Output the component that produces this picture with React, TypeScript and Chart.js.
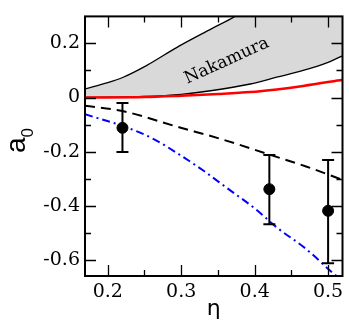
import React, { useEffect, useRef } from 'react';
import { Chart, registerables } from 'chart.js';

Chart.register(...registerables);

// Axis ticks
const xTicks = [0.2, 0.3, 0.4, 0.5];
const yTicks = [-0.6, -0.4, -0.2, 0, 0.2];
const xMinor = [0.2, 0.25, 0.3, 0.35, 0.4, 0.45, 0.5];
const yMinor = [-0.6, -0.5, -0.4, -0.3, -0.2, -0.1, 0, 0.1, 0.2];

// Data points with error bars
const etaPoints = [0.22, 0.42, 0.5];
const a0Points = [-0.112, -0.339, -0.419];
const errLow = [-0.201, -0.469, -0.613];
const errHigh = [-0.02, -0.213, -0.231];

// Nakamura band
const nakUpperX = [0.169, 0.2, 0.221, 0.252, 0.297, 0.341, 0.373, 0.4, 0.45, 0.52];
const nakUpperY = [0.032, 0.055, 0.075, 0.117, 0.19, 0.254, 0.3, 0.35, 0.45, 0.6];
const nakLowerX = [0.169, 0.2, 0.25, 0.3, 0.34, 0.394, 0.43, 0.466, 0.5, 0.52];
const nakLowerY = [0.0, 0.001, 0.004, 0.012, 0.025, 0.05, 0.075, 0.1, 0.13, 0.155];

// Red curve
const redX = [0.169, 0.25, 0.3, 0.35, 0.394, 0.43, 0.466, 0.52];
const redY = [0.0, 0.002, 0.007, 0.013, 0.02, 0.03, 0.043, 0.066];

// Black dashed curve
const dashX = [0.169, 0.22, 0.297, 0.35, 0.419, 0.47, 0.52];
const dashY = [-0.03, -0.05, -0.11, -0.15, -0.21, -0.255, -0.305];

// Blue dash-dot curve
const blueX = [0.169, 0.221, 0.26, 0.297, 0.33, 0.363, 0.4, 0.43, 0.47, 0.506, 0.52];
const blueY = [-0.062, -0.106, -0.15, -0.21, -0.27, -0.336, -0.41, -0.48, -0.56, -0.648, -0.68];

const SERIF = 'DejaVu Serif';
const SANS = 'Liberation Sans';

const zip = (xs: number[], ys: number[]) => xs.map((x, i) => ({ x, y: ys[i] }));

const decoPlugin = {
  id: 'deco',
  afterDraw(chart: any) {
    const { ctx, chartArea, scales } = chart;
    const { left, right, top, bottom } = chartArea;
    const xs = scales.x;
    const ys = scales.y;
    ctx.save();
    // error bars
    ctx.strokeStyle = '#000';
    ctx.lineWidth = 2;
    etaPoints.forEach((e, i) => {
      const px = xs.getPixelForValue(e);
      const y1 = ys.getPixelForValue(errLow[i]);
      const y2 = ys.getPixelForValue(errHigh[i]);
      ctx.beginPath();
      ctx.moveTo(px, y1);
      ctx.lineTo(px, y2);
      ctx.moveTo(px - 6, y1);
      ctx.lineTo(px + 6, y1);
      ctx.moveTo(px - 6, y2);
      ctx.lineTo(px + 6, y2);
      ctx.stroke();
    });
    // ticks
    ctx.lineWidth = 1.3;
    ctx.beginPath();
    xMinor.forEach((v) => {
      const px = Math.round(xs.getPixelForValue(v)) + 0.5;
      const len = xTicks.some((t) => Math.abs(t - v) < 1e-9) ? 11 : 6;
      ctx.moveTo(px, bottom);
      ctx.lineTo(px, bottom - len);
      ctx.moveTo(px, top);
      ctx.lineTo(px, top + len);
    });
    yMinor.forEach((v) => {
      const py = Math.round(ys.getPixelForValue(v)) + 0.5;
      const len = yTicks.some((t) => Math.abs(t - v) < 1e-9) ? 11 : 6;
      ctx.moveTo(left, py);
      ctx.lineTo(left + len, py);
      ctx.moveTo(right, py);
      ctx.lineTo(right - len, py);
    });
    ctx.stroke();
    // frame
    ctx.lineWidth = 2;
    ctx.strokeRect(left, top, right - left, bottom - top);
    // Nakamura label
    ctx.fillStyle = '#000';
    ctx.save();
    ctx.translate(xs.getPixelForValue(0.362), ys.getPixelForValue(0.135));
    ctx.rotate((-24.5 * Math.PI) / 180);
    ctx.font = '17px "' + SERIF + '"';
    ctx.textAlign = 'center';
    ctx.textBaseline = 'middle';
    ctx.fillText('Nakamura', 0, 0);
    ctx.restore();
    // x title
    ctx.font = '22px "DejaVu Sans"';
    ctx.textAlign = 'center';
    ctx.textBaseline = 'alphabetic';
    ctx.fillText('η', (left + right) / 2, 315);
    // y title with subscript
    ctx.save();
    ctx.translate(25, 153);
    ctx.rotate(-Math.PI / 2);
    ctx.textAlign = 'left';
    ctx.font = '28px "' + SANS + '"';
    ctx.fillText('a', 0, 0);
    const aw = ctx.measureText('a').width;
    ctx.font = '17px "' + SANS + '"';
    ctx.fillText('0', aw, 8);
    ctx.restore();
    ctx.restore();
  },
};

export default function App() {
  const ref = useRef<HTMLCanvasElement | null>(null);
  useEffect(() => {
    document.body.style.margin = '0';
    const canvas = ref.current;
    if (!canvas) return;
    const tickFont = { family: SERIF, size: 19 };
    const chart = new Chart(canvas, {
      type: 'scatter',
      data: {
        datasets: [
          {
            data: zip(etaPoints, a0Points),
            showLine: false,
            pointRadius: 5.5,
            pointBackgroundColor: '#000',
            pointBorderColor: '#000',
            borderColor: '#000',
          },
          {
            data: zip(redX, redY),
            showLine: true,
            borderColor: '#ff0000',
            borderWidth: 2.5,
            pointRadius: 0,
            cubicInterpolationMode: 'monotone',
          },
          {
            data: zip(dashX, dashY),
            showLine: true,
            borderColor: '#000',
            borderWidth: 2,
            borderDash: [10, 6],
            pointRadius: 0,
            cubicInterpolationMode: 'monotone',
          },
          {
            data: zip(blueX, blueY),
            showLine: true,
            borderColor: '#0000ff',
            borderWidth: 2,
            borderDash: [8, 4, 2, 4],
            pointRadius: 0,
            cubicInterpolationMode: 'monotone',
          },
          {
            data: zip(nakUpperX, nakUpperY),
            showLine: true,
            borderColor: '#000',
            borderWidth: 1.3,
            pointRadius: 0,
            fill: 5,
            backgroundColor: '#d9d9d9',
            cubicInterpolationMode: 'monotone',
          },
          {
            data: zip(nakLowerX, nakLowerY),
            showLine: true,
            borderColor: '#000',
            borderWidth: 1.3,
            pointRadius: 0,
            cubicInterpolationMode: 'monotone',
          },
        ] as any,
      },
      options: {
        animation: false,
        responsive: false,
        devicePixelRatio: 1,
        layout: { padding: { top: 7, right: 1, left: 0, bottom: 0 } },
        plugins: {
          legend: { display: false },
          tooltip: { enabled: false },
          filler: { drawTime: 'beforeDatasetsDraw' },
        } as any,
        scales: {
          x: {
            type: 'linear',
            min: 0.169,
            max: 0.5196,
            grid: { display: false, drawTicks: false },
            border: { display: false },
            ticks: {
              font: tickFont,
              color: '#000',
              padding: 5,
              maxRotation: 0,
              callback: (v: any) => String(Math.round(Number(v) * 10) / 10),
            },
            afterBuildTicks: (s: any) => {
              s.ticks = xTicks.map((v) => ({ value: v }));
            },
            afterFit: (s: any) => {
              s.height = 47;
            },
          },
          y: {
            type: 'linear',
            min: -0.66,
            max: 0.3,
            grid: { display: false, drawTicks: false },
            border: { display: false },
            ticks: {
              font: tickFont,
              color: '#000',
              padding: 5,
              callback: (v: any) => {
                const r = Math.round(Number(v) * 10) / 10;
                return r === 0 ? '0' : String(r);
              },
            },
            afterBuildTicks: (s: any) => {
              s.ticks = yTicks.map((v) => ({ value: v }));
            },
            afterFit: (s: any) => {
              s.width = 85;
            },
          },
        },
      } as any,
      plugins: [decoPlugin],
    });
    return () => chart.destroy();
  }, []);
  return <canvas ref={ref} width={349} height={323} style={{ display: 'block' }} />;
}
